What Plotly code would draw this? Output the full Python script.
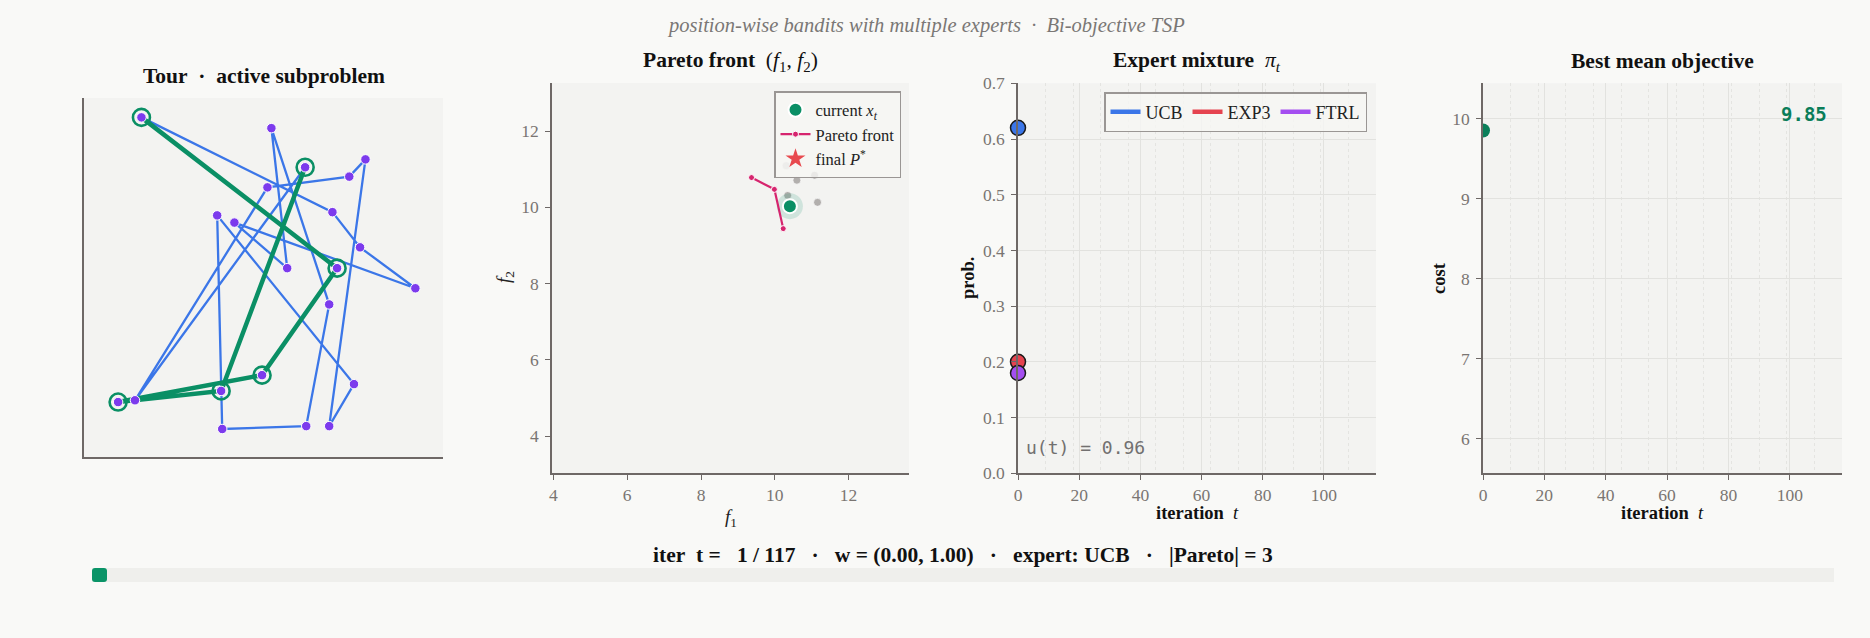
import plotly.graph_objects as go

W, H = 1870, 638

# ---------------- data ----------------
# panel 1: city coordinates (unit square) and tours
city_x = [0.160, 0.522, 0.616, 0.784, 0.739, 0.511, 0.371, 0.419, 0.692, 0.769, 0.566,
          0.705, 0.923, 0.683, 0.752, 0.496, 0.382, 0.142, 0.095, 0.385, 0.619, 0.683]
city_y = [0.946, 0.916, 0.807, 0.829, 0.781, 0.751, 0.673, 0.653, 0.682, 0.584, 0.526,
          0.526, 0.470, 0.425, 0.203, 0.228, 0.184, 0.158, 0.153, 0.078, 0.086, 0.086]
tour_order = [1, 9, 10, 13, 8, 11, 2, 14, 21, 20, 7, 15, 22, 4, 5, 6, 18, 3, 17, 19, 16, 12]
sub_path = [1, 12, 16, 19, 17, 3]

# panel 2: objective space
pareto_f1 = [9.37, 9.99, 10.23]
pareto_f2 = [10.78, 10.47, 9.44]
current_f1 = [10.41]
current_f2 = [10.03]
hist_f1 = [10.31, 10.60, 11.08, 10.35, 11.16]
hist_f2 = [11.09, 10.71, 10.84, 10.31, 10.13]
hist_alpha = [0.45, 0.7, 0.7, 0.7, 0.7]

# panel 3: expert mixture
experts = ["UCB", "EXP3", "FTRL"]
expert_iter = [0]
expert_prob = {"UCB": [0.62], "EXP3": [0.20], "FTRL": [0.18]}
u_t = 0.96

# panel 4: best mean objective
best_iter = [0]
best_cost = [9.85]

# status
t_cur, T_total = 1, 117
w_vec = (0.00, 1.00)
cur_expert = "UCB"
pareto_size = 3

# ---------------- style ----------------
PAGE = "#f9f9f7"
PLOT = "#f3f3f1"
AXC = "#6e6866"
TICKC = "#7a7572"
GRID = "#e2e2df"
SERIF = "Liberation Serif"
MONO = "DejaVu Sans Mono"
GREEN = "#0a8f65"
BLUE_EDGE = "#3b76e8"
NODE = "#7c3aed"
PINK = "#d6246e"
EXPC = {"UCB": "#3b76e8", "EXP3": "#e5434f", "FTRL": "#a44ef0"}
NB = "\u00a0"


def dx(p):
    return p / W


def dy(p):
    return 1 - p / H


fig = go.Figure()

# ---------- panel 1: tour ----------
tx = [city_x[i - 1] for i in tour_order] + [city_x[tour_order[0] - 1]]
ty = [city_y[i - 1] for i in tour_order] + [city_y[tour_order[0] - 1]]
fig.add_trace(go.Scatter(x=tx, y=ty, mode="lines", line=dict(color=BLUE_EDGE, width=2.3),
                         xaxis="x", yaxis="y", showlegend=False, hoverinfo="skip"))
sx = [city_x[i - 1] for i in sub_path]
sy = [city_y[i - 1] for i in sub_path]
fig.add_trace(go.Scatter(x=sx, y=sy, mode="lines", line=dict(color=GREEN, width=4.5),
                         xaxis="x", yaxis="y", showlegend=False, hoverinfo="skip"))
fig.add_trace(go.Scatter(x=sx, y=sy, mode="markers",
                         marker=dict(size=17, color="rgba(0,0,0,0)", line=dict(color=GREEN, width=2.6)),
                         xaxis="x", yaxis="y", showlegend=False, hoverinfo="skip"))
fig.add_trace(go.Scatter(x=city_x, y=city_y, mode="markers",
                         marker=dict(size=9.5, color=NODE, line=dict(color="white", width=1)),
                         xaxis="x", yaxis="y", showlegend=False))

# ---------- panel 2: Pareto ----------
for f1, f2, a in zip(hist_f1, hist_f2, hist_alpha):
    fig.add_trace(go.Scatter(x=[f1], y=[f2], mode="markers",
                             marker=dict(size=8, color=f"rgba(150,146,144,{a})",
                                         line=dict(color=f"rgba(255,255,255,{a})", width=1)),
                             xaxis="x2", yaxis="y2", showlegend=False))
fig.add_trace(go.Scatter(x=current_f1, y=current_f2, mode="markers",
                         marker=dict(size=26, color="rgba(10,143,101,0.15)"),
                         xaxis="x2", yaxis="y2", showlegend=False, hoverinfo="skip"))
fig.add_trace(go.Scatter(x=pareto_f1, y=pareto_f2, mode="lines+markers", name="Pareto front",
                         line=dict(color=PINK, width=2.2),
                         marker=dict(size=6, color=PINK, line=dict(color="white", width=1)),
                         xaxis="x2", yaxis="y2", legend="legend", legendrank=2))
fig.add_trace(go.Scatter(x=current_f1, y=current_f2, mode="markers",
                         name="current <i>x</i><sub><i>t</i></sub>",
                         marker=dict(size=14, color=GREEN, line=dict(color="white", width=2)),
                         xaxis="x2", yaxis="y2", legend="legend", legendrank=1))
fig.add_trace(go.Scatter(x=[None], y=[None], mode="markers", name="final <i>P</i><sup>*</sup>",
                         marker=dict(size=15, color="#e84a4f", symbol="star"),
                         xaxis="x2", yaxis="y2", legend="legend", legendrank=3))

# ---------- panel 3: expert mixture ----------
for e in experts:
    fig.add_trace(go.Scatter(x=expert_iter, y=expert_prob[e], mode="lines", name=e,
                             line=dict(color=EXPC[e], width=4.5),
                             xaxis="x3", yaxis="y3", legend="legend2"))
for e in experts:
    fig.add_trace(go.Scatter(x=expert_iter, y=expert_prob[e], mode="markers",
                             marker=dict(size=15, color=EXPC[e], line=dict(color="#1a1a1a", width=1.5)),
                             cliponaxis=False, xaxis="x3", yaxis="y3", showlegend=False))

# ---------- panel 4: best objective ----------
fig.add_trace(go.Scatter(x=best_iter, y=best_cost, mode="markers",
                         marker=dict(size=14, color="#0b7f5a"), cliponaxis=True,
                         xaxis="x4", yaxis="y4", showlegend=False))

# ---------- axes ----------
tickfont = dict(family=SERIF, size=17.5, color=TICKC)
common = dict(showline=True, linecolor=AXC, linewidth=1.5, ticks="outside", ticklen=5,
              tickcolor=AXC, tickwidth=1.2, tickfont=tickfont, zeroline=False, mirror=False,
              automargin=False)

P1 = (84, 443, 98, 457)
P2 = (552, 909, 83, 473)
P3 = (1018, 1376, 83.3, 473.3)
P4 = (1483, 1842, 83.3, 473.3)


def dom(p):
    return dict(x=[dx(p[0]), dx(p[1])], y=[dy(p[3]), dy(p[2])])


d1, d2, d3, d4 = dom(P1), dom(P2), dom(P3), dom(P4)

fig.update_layout(
    xaxis=dict(domain=d1["x"], anchor="y", range=[0, 1], showline=True, linecolor=AXC, linewidth=1.5,
               showticklabels=False, ticks="", showgrid=False, zeroline=False, automargin=False),
    yaxis=dict(domain=d1["y"], anchor="x", range=[0, 1], showline=True, linecolor=AXC, linewidth=1.5,
               showticklabels=False, ticks="", showgrid=False, zeroline=False, automargin=False),
    xaxis2=dict(domain=d2["x"], anchor="y2", range=[3.96, 13.64], tickvals=[4, 6, 8, 10, 12],
                showgrid=False, **common),
    yaxis2=dict(domain=d2["y"], anchor="x2", range=[3.03, 13.26], tickvals=[4, 6, 8, 10, 12],
                showgrid=False, ticklabelstandoff=3, **common),
    xaxis3=dict(domain=d3["x"], anchor="y3", range=[0, 117], tick0=0, dtick=20,
                showgrid=True, gridcolor=GRID, gridwidth=1,
                minor=dict(tick0=0, dtick=9, showgrid=True, gridcolor="#e4e4e1", griddash="dot", ticks=""),
                **common),
    yaxis3=dict(domain=d3["y"], anchor="x3", range=[0, 0.7], tick0=0, dtick=0.1, tickformat=".1f",
                showgrid=True, gridcolor=GRID, gridwidth=1, ticklabelstandoff=3, **common),
    xaxis4=dict(domain=d4["x"], anchor="y4", range=[0, 117], tick0=0, dtick=20,
                showgrid=True, gridcolor=GRID, gridwidth=1,
                minor=dict(tick0=0, dtick=9, showgrid=True, gridcolor="#e4e4e1", griddash="dot", ticks=""),
                **common),
    yaxis4=dict(domain=d4["y"], anchor="x4", range=[5.57, 10.44], tick0=6, dtick=1,
                showgrid=True, gridcolor=GRID, gridwidth=1, ticklabelstandoff=3, **common),
)

# ---------- legends ----------
fig.update_layout(
    legend=dict(x=dx(901), y=dy(91), xanchor="right", yanchor="top", orientation="v",
                bgcolor="rgba(246,246,244,0.8)", bordercolor="#9a9694", borderwidth=1.5,
                font=dict(family=SERIF, size=16.5, color="#222"), itemwidth=30,
                tracegroupgap=0, traceorder="normal"),
    legend2=dict(x=dx(1367), y=dy(92), xanchor="right", yanchor="top", orientation="h",
                 bgcolor="rgba(246,246,244,0.8)", bordercolor="#9a9694", borderwidth=1.5,
                 font=dict(family=SERIF, size=18, color="#222"), itemwidth=30),
)

# ---------- annotations ----------
ann = []


def text(x, y, s, size, color="#111", family=SERIF, angle=0, xanchor="center", yanchor="middle",
         style="normal"):
    ann.append(dict(x=dx(x), y=dy(y), xref="paper", yref="paper", text=s, showarrow=False,
                    font=dict(family=family, size=size, color=color, style=style), textangle=angle,
                    xanchor=xanchor, yanchor=yanchor))


text(925.5, 25, "position-wise bandits with multiple experts" + NB * 2 + "·" + NB * 2 + "Bi-objective TSP",
     20.5, color="#7a7775", style="italic")
text(263.5, 76, "<b>Tour" + NB * 2 + "·" + NB * 2 + "active subproblem</b>", 21.5)
text(730.5, 61, "<b>Pareto front</b>" + NB * 2 + "(<i>f</i><sub>1</sub>, <i>f</i><sub>2</sub>)", 21.5)
text(1197, 61, "<b>Expert mixture</b>" + NB * 2 + "<i>π</i><sub><i>t</i></sub>", 21.5)
text(1662.5, 61, "<b>Best mean objective</b>", 21.5)

# axis titles
text(730.5, 518, "<i>f</i><sub>1</sub>", 19, color="#222")
text(505, 277, "<i>f</i><sub>2</sub>", 19, color="#222", angle=-90)
text(1197, 513, "<b>iteration</b>" + NB * 2 + "<i>t</i>", 18.5)
text(968, 278, "<b>prob.</b>", 18.5, angle=-90)
text(1662.5, 513, "<b>iteration</b>" + NB * 2 + "<i>t</i>", 18.5)
text(1439, 278, "<b>cost</b>", 18.5, angle=-90)

# in-panel texts
text(1024, 447, f"u(t) = {u_t:.2f}", 18, color="#727070", family=MONO, xanchor="left")
text(1829, 114, f"<b>{best_cost[-1]:.2f}</b>", 19, color="#0a7d59", family=MONO, xanchor="right")

# status line
sep = NB * 3 + "·" + NB * 3
status = (f"<b>iter{NB}{NB}t ={NB}{NB}{NB}{t_cur} / {T_total}{sep}w = ({w_vec[0]:.2f}, {w_vec[1]:.2f}){sep}"
          f"expert: {cur_expert}{sep}|Pareto| = {pareto_size}</b>")
text(963, 555, status, 21.5)

fig.update_layout(annotations=ann)

# ---------- progress slider (shapes) ----------
trk_l, trk_r, trk_t, trk_b = 92, 1834, 568, 582
hw = 15
frac = (t_cur - 1) / (T_total - 1)
hl = trk_l + frac * (trk_r - trk_l - hw)
hr = hl + hw
r = 3
shapes = [dict(type="rect", xref="paper", yref="paper", x0=dx(trk_l), x1=dx(trk_r), y0=dy(trk_b), y1=dy(trk_t),
               fillcolor="#efefec", line=dict(width=0), layer="below")]
path = (f"M {dx(hl + r)},{dy(trk_t)} L {dx(hr - r)},{dy(trk_t)} Q {dx(hr)},{dy(trk_t)} {dx(hr)},{dy(trk_t + r)} "
        f"L {dx(hr)},{dy(trk_b - r)} Q {dx(hr)},{dy(trk_b)} {dx(hr - r)},{dy(trk_b)} "
        f"L {dx(hl + r)},{dy(trk_b)} Q {dx(hl)},{dy(trk_b)} {dx(hl)},{dy(trk_b - r)} "
        f"L {dx(hl)},{dy(trk_t + r)} Q {dx(hl)},{dy(trk_t)} {dx(hl + r)},{dy(trk_t)} Z")
shapes.append(dict(type="path", xref="paper", yref="paper", path=path, fillcolor="#0a9467",
                   line=dict(width=0)))
fig.update_layout(shapes=shapes)

fig.update_layout(width=W, height=H, margin=dict(l=0, r=0, t=0, b=0, autoexpand=False),
                  paper_bgcolor=PAGE, plot_bgcolor=PLOT, font=dict(family=SERIF, color="#222"),
                  hovermode="closest", autosize=False)

fig.write_html("out.html", config={"responsive": False, "displayModeBar": False})
